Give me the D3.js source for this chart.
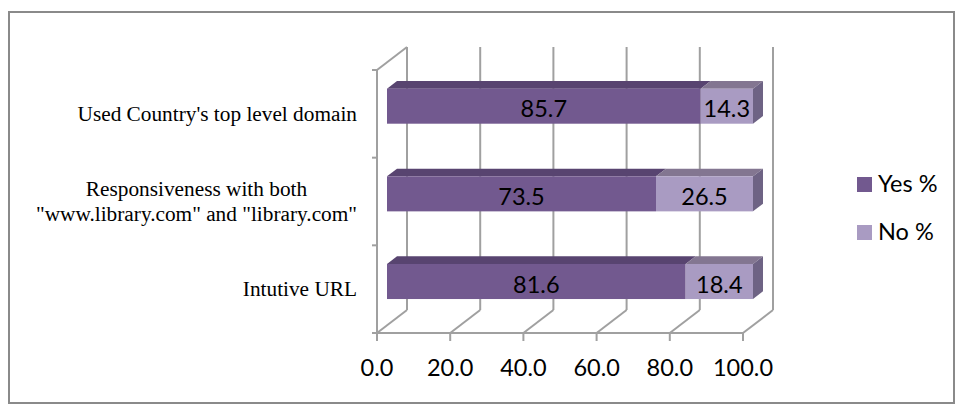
<!DOCTYPE html>
<html>
<head>
<meta charset="utf-8">
<script src="https://cdn.jsdelivr.net/npm/d3@7"></script>
<style>
  html, body { margin: 0; padding: 0; background: #fff; }
  svg { display: block; }
</style>
</head>
<body>
<svg id="chart" width="956" height="408"></svg>
<script>
// ---- data ----
const categories = [
  "Used Country's top level domain",
  "Responsiveness with both\n\"www.library.com\" and \"library.com\"",
  "Intutive URL"
];
const yesValues = [85.7, 73.5, 81.6];
const noValues = [14.3, 26.5, 18.4];
const seriesNames = ["Yes %", "No %"];
const tickValues = [0, 20, 40, 60, 80, 100];

// ---- layout ----
const svg = d3.select("#chart");
const DX = 30, DY = -23;               // full depth offset of 3D box
const d1 = [DX / 3, DY / 3], d2 = [2 * DX / 3, 2 * DY / 3];
const x = d3.scaleLinear().domain([0, 100]).range([377, 743]);
const y = d3.scaleBand().domain(categories).range([70, 333]).paddingInner(0.6).paddingOuter(0.3);
const yBand = d3.scaleBand().domain(categories).range([70, 333]);
const gridColor = "#a0a0a0";
const sansFont = "Lato, 'Open Sans', sans-serif";
const sansSize = 23.5;
const colors = {
  yesFront: "#72598f", yesTop: "#584470",
  noFront: "#a99bc2", noTop: "#837691", noSide: "#6e6384"
};

// outer border
svg.append("rect").attr("x", 9).attr("y", 12).attr("width", 945).attr("height", 391)
  .attr("fill", "none").attr("stroke", "#8a8a8a").attr("stroke-width", 2);

const g = svg.append("g");
const top0 = 70, bot0 = 333;

// back wall gridlines
g.selectAll("line.grid").data(tickValues).join("line")
  .attr("x1", d => x(d) + DX).attr("x2", d => x(d) + DX)
  .attr("y1", top0 + DY).attr("y2", bot0 + DY)
  .attr("stroke", gridColor).attr("stroke-width", 2);

// floor diagonals
g.selectAll("line.floor").data(tickValues).join("line")
  .attr("x1", d => x(d)).attr("x2", d => x(d) + DX)
  .attr("y1", bot0).attr("y2", bot0 + DY)
  .attr("stroke", gridColor).attr("stroke-width", 2);

// front x axis line
g.append("line").attr("x1", x(0) - 5).attr("x2", x(100)).attr("y1", bot0).attr("y2", bot0)
  .attr("stroke", gridColor).attr("stroke-width", 2);
// x ticks
g.selectAll("line.xt").data(tickValues).join("line")
  .attr("x1", d => x(d)).attr("x2", d => x(d)).attr("y1", bot0).attr("y2", bot0 + 8)
  .attr("stroke", gridColor).attr("stroke-width", 2);

// left wall
g.append("line").attr("x1", x(0)).attr("x2", x(0)).attr("y1", top0).attr("y2", bot0)
  .attr("stroke", gridColor).attr("stroke-width", 2);
g.append("line").attr("x1", x(0)).attr("x2", x(0) + DX).attr("y1", top0).attr("y2", top0 + DY)
  .attr("stroke", gridColor).attr("stroke-width", 2);
// category ticks
const catTicks = categories.map(c => yBand(c)).concat([bot0]);
g.selectAll("line.yt").data(catTicks).join("line")
  .attr("x1", x(0) - 5).attr("x2", x(0)).attr("y1", d => d).attr("y2", d => d)
  .attr("stroke", gridColor).attr("stroke-width", 2);

// x tick labels
g.selectAll("text.xl").data(tickValues).join("text")
  .attr("x", d => x(d)).attr("y", 376)
  .attr("text-anchor", "middle")
  .attr("font-family", sansFont).attr("font-size", sansSize)
  .attr("fill", "#000")
  .text(d3.format(".1f"));

// bars
const bars = categories.map((c, i) => ({
  cat: c,
  segs: [
    { s: 0, e: yesValues[i], v: yesValues[i], front: colors.yesFront, top: colors.yesTop },
    { s: yesValues[i], e: yesValues[i] + noValues[i], v: noValues[i], front: colors.noFront, top: colors.noTop, last: true }
  ]
}));

const pt = (p) => p.join(",");
bars.forEach(b => {
  const t = y(b.cat), bt = t + y.bandwidth();
  b.segs.forEach(s => {
    const xs = x(s.s), xe = x(s.e);
    // top face
    g.append("polygon").attr("points", [
      [xs + d1[0], t + d1[1]], [xe + d1[0], t + d1[1]], [xe + d2[0], t + d2[1]], [xs + d2[0], t + d2[1]]
    ].map(pt).join(" ")).attr("fill", s.top);
    // front face
    g.append("rect").attr("x", xs + d1[0]).attr("y", t + d1[1])
      .attr("width", xe - xs).attr("height", y.bandwidth()).attr("fill", s.front);
    if (s.last) {
      g.append("polygon").attr("points", [
        [xe + d1[0], t + d1[1]], [xe + d2[0], t + d2[1]], [xe + d2[0], bt + d2[1]], [xe + d1[0], bt + d1[1]]
      ].map(pt).join(" ")).attr("fill", colors.noSide);
    }
    // label
    g.append("text")
      .attr("x", (xs + xe) / 2 + d1[0])
      .attr("y", t + d1[1] + y.bandwidth() / 2 + 11)
      .attr("text-anchor", "middle")
      .attr("font-family", sansFont).attr("font-size", sansSize)
      .attr("fill", "#000")
      .text(d3.format(".1f")(s.v));
  });
});

// category labels (right aligned block, centered lines)
const labelRight = 357;
categories.forEach(c => {
  const lines = c.split("\n");
  const cy = yBand(c) + yBand.bandwidth() / 2;
  const lh = 25;
  const grp = g.append("g");
  const texts = lines.map((ln, k) => grp.append("text")
    .attr("font-family", "'Liberation Serif', 'Times New Roman', serif")
    .attr("font-size", 21.3).attr("fill", "#000")
    .attr("text-anchor", "middle")
    .attr("y", cy + 7 + (k - (lines.length - 1) / 2) * lh)
    .text(ln));
  const widths = texts.map(tx => tx.node().getComputedTextLength());
  const maxW = d3.max(widths);
  texts.forEach(tx => tx.attr("x", labelRight - maxW / 2));
});

// legend
const legend = svg.append("g");
const legY = [177, 225];
seriesNames.forEach((n, i) => {
  legend.append("rect").attr("x", 857).attr("y", legY[i]).attr("width", 15).attr("height", 15)
    .attr("fill", i === 0 ? colors.yesFront : colors.noFront);
  legend.append("text").attr("x", 878).attr("y", legY[i] + 15)
    .attr("font-family", sansFont).attr("font-size", sansSize)
    .attr("fill", "#000").text(n);
});
</script>
</body>
</html>
